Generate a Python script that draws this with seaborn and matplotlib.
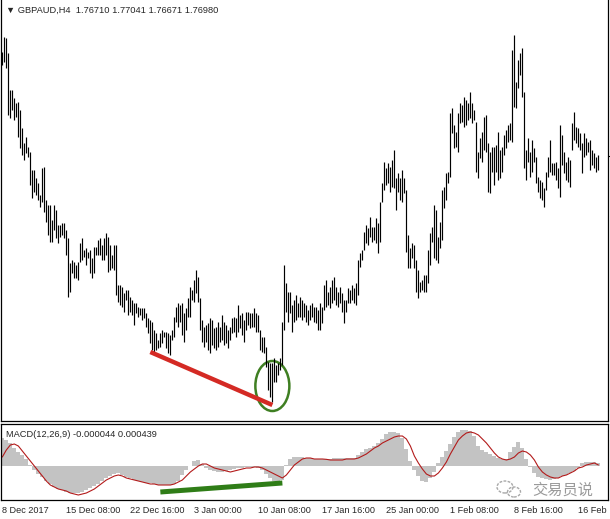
import matplotlib
matplotlib.use("Agg")
import matplotlib.pyplot as plt
import matplotlib.transforms as mtransforms
from matplotlib.patches import Ellipse
import numpy as np
import pandas as pd
import seaborn as sns

title_text = "\u25bc GBPAUD,H4  1.76710 1.77041 1.76671 1.76980"
macd_text = "MACD(12,26,9) -0.000044 0.000439"
last_close = 1.7698

# H4 bars, high / low in pips above 1.7000
highs = [906, 936, 934, 904, 830, 830, 814, 804, 806, 790,
         754, 724, 736, 716, 706, 670, 670, 654, 644, 620,
         674, 676, 610, 600, 600, 570, 600, 590, 560, 560,
         564, 564, 550, 534, 484, 490, 486, 480, 486, 524,
         534, 510, 514, 506, 510, 494, 516, 516, 530,
         534, 520, 534, 544, 536, 520, 500, 520, 520, 440,
         440, 436, 424, 430, 430, 416, 410, 404, 404, 396,
         394, 394, 394, 384, 374, 370, 366, 350, 344, 330,
         344, 350, 346, 346, 344, 340, 350, 376, 396, 404,
         400, 404, 384, 394, 414, 436, 430, 450, 470, 456,
         414, 370, 356, 360, 364, 374, 370, 354, 356, 366,
         356, 380, 366, 360, 350, 356, 374, 376, 374, 400,
         380, 384, 370, 386, 386, 384, 384, 394, 384, 380,
         350, 336, 336, 316, 286, 284, 284, 294, 280, 284,
         294, 366, 480, 444, 426, 426, 400, 410, 420, 404,
         416, 410, 404, 400, 390, 400, 404, 396, 396, 390,
         404, 396, 440, 450, 426, 436, 450, 456, 436, 426,
         436, 424, 410, 410, 434, 430, 440, 434, 444, 490,
         504, 510, 546, 560, 554, 576, 556, 556, 574, 564,
         606, 644, 686, 674, 684, 676, 690, 710, 654, 664,
         654, 670, 654, 630, 540, 514, 524, 520, 490, 470,
         446, 450, 460, 460, 510, 544, 556, 600, 590, 536,
         566, 630, 636, 664, 666, 784, 794, 760, 746, 784,
         804, 800, 816, 810, 804, 826, 804, 790, 766, 706,
         734, 746, 776, 780, 724, 706, 716, 716, 720, 746,
         710, 716, 740, 750, 760, 764, 910, 940, 846, 890,
         904, 914, 826, 710, 734, 706, 730, 714, 696, 656,
         650, 646, 634, 666, 696, 730, 684, 684, 686, 674,
         760, 740, 706, 686, 696, 690, 764, 786, 756, 754,
         744, 724, 744, 734, 726, 730, 710, 704, 696, 700]
lows = [880, 886, 874, 780, 774, 790, 770, 776, 736, 714,
        700, 690, 704, 696, 640, 614, 626, 620, 610, 596,
        606, 586, 566, 540, 526, 526, 550, 534, 524, 536,
        540, 534, 500, 416, 426, 464, 454, 454, 450, 486,
        490, 496, 480, 494, 464, 454, 464, 500, 500,
        500, 490, 490, 500, 466, 470, 474, 470, 420, 406,
        400, 396, 386, 410, 380, 386, 380, 360, 384, 376,
        380, 370, 374, 356, 344, 324, 310, 300, 310, 314,
        316, 324, 336, 314, 304, 300, 330, 336, 366, 356,
        366, 340, 326, 350, 376, 376, 410, 406, 424, 406,
        350, 326, 316, 326, 310, 304, 320, 314, 310, 316,
        326, 330, 320, 324, 314, 330, 344, 346, 336, 346,
        354, 340, 326, 350, 360, 354, 356, 356, 346, 346,
        310, 306, 304, 276, 230, 216, 206, 246, 246, 260,
        270, 280, 350, 386, 366, 384, 346, 366, 370, 376,
        376, 370, 376, 366, 360, 370, 376, 366, 364, 350,
        350, 364, 390, 396, 400, 394, 404, 410, 400, 396,
        404, 386, 364, 386, 404, 404, 410, 404, 400, 420,
        476, 490, 510, 524, 520, 536, 526, 530, 524, 504,
        526, 606, 630, 640, 644, 626, 636, 634, 590, 626,
        610, 606, 624, 506, 474, 474, 494, 474, 426, 414,
        426, 430, 426, 426, 444, 480, 526, 494, 490, 484,
        514, 530, 594, 610, 644, 656, 744, 714, 716, 706,
        764, 766, 756, 760, 770, 774, 764, 770, 666, 654,
        694, 686, 710, 706, 626, 624, 666, 640, 666, 650,
        654, 666, 700, 714, 726, 730, 726, 796, 794, 834,
        860, 816, 674, 650, 686, 656, 666, 686, 644, 626,
        614, 610, 596, 630, 656, 666, 660, 660, 650, 634,
        616, 680, 664, 650, 646, 636, 710, 730, 724, 716,
        710, 664, 696, 700, 706, 670, 680, 674, 666, 670]

# MACD histogram and signal, read every 2nd bar, units of 0.0001
macd_bars = list(range(0, 300, 2))
macd_hist = [42, 39, 34.5, 27, 21, 16.5, 10.5, 1.5, -6, -12,
             -16.5, -22.5, -27, -31.5, -34.5, -36, -39, -40.5, -40.5, -40.5,
             -39, -36, -33, -30, -27, -22.5, -18, -15, -12, -10.5,
             -13.5, -16.5, -18, -21, -22.5, -24, -25.5, -25.5, -27, -28.5,
             -28.5, -28.5, -28.5, -27, -22.5, -13.5, -6, 0, 7.5, 9,
             3, -3, -6, -7.5, -9, -9, -7.5, -6, -4.5, -3,
             -3, -1.5, -1.5, -1.5, -3, -6, -12, -18, -22.5, -24,
             -21, 1.5, 10.5, 13.5, 13.5, 13.5, 12, 12, 10.5, 10.5,
             10.5, 10.5, 10.5, 12, 12, 12, 12, 12, 12, 16.5,
             21, 25.5, 27, 30, 34.5, 40.5, 48, 51, 51, 49.5,
             42, 25.5, 7.5, -6, -15, -22.5, -24, -18, -9, 4.5,
             13.5, 22.5, 33, 43.5, 51, 54, 54, 52.5, 45, 30,
             24, 21, 18, 15, 12, 10.5, 10.5, 21, 28.5, 36,
             27, 10.5, -1.5, -10.5, -16.5, -18, -19.5, -21, -19.5, -18,
             -15, -13.5, -10.5, -7.5, -3, 4.5, 6, 6, 6, 4.5]
macd_signal = [13.5, 24, 31.5, 33, 30, 22.5, 15, 7.5, 0, -7.5,
               -15, -22.5, -28.5, -31.5, -34.5, -36, -37.5, -40.5, -42, -43.5,
               -42, -40.5, -37.5, -34.5, -30, -25.5, -21, -18, -15, -13.5,
               -15, -18, -19.5, -21, -22.5, -24, -25.5, -27, -27, -28.5,
               -28.5, -28.5, -28.5, -27, -24, -21, -15, -9, -4.5, 0,
               3, 3, 0, -3, -4.5, -6, -7.5, -9, -7.5, -6,
               -4.5, -3, -3, -1.5, -1.5, -3, -6, -9, -12, -15,
               -18, -13.5, -6, 1.5, 6, 10.5, 12, 12, 10.5, 10.5,
               10.5, 10, 9, 9, 9, 9, 10.5, 10.5, 10.5, 12,
               15, 18, 22.5, 27, 30, 34.5, 37.5, 40.5, 43.5, 45,
               45, 40.5, 30, 15, 4.5, -4.5, -12, -15, -15, -10.5,
               -3, 6, 18, 28.5, 39, 45, 49.5, 51, 49.5, 46.5,
               40.5, 34.5, 27, 19.5, 13.5, 10.5, 9, 10.5, 13.5, 19.5,
               22.5, 21, 16.5, 9, -1.5, -9, -13.5, -16.5, -18, -18,
               -15, -13.5, -10.5, -7.5, -3, -1.5, 1.5, 3, 4.5, 1.5]

time_labels = ["8 Dec 2017", "15 Dec 08:00", "22 Dec 16:00", "3 Jan 00:00",
               "10 Jan 08:00", "17 Jan 16:00", "25 Jan 00:00", "1 Feb 08:00",
               "8 Feb 16:00", "16 Feb"]
label_bars = [0, 32, 64, 96, 128, 160, 192, 224, 256, 288]

# hand-drawn annotations (bar index, price / macd value)
red_line_bars = [74, 135]
red_line_prices = [1.7306, 1.7200]
circle_center = (135, 1.7238)
circle_size = (17, 0.0100)
green_line_bars = [79, 140]
green_line_macd = [-0.0039, -0.00255]
watermark = "交易员说"

bars = pd.DataFrame({"bar": np.arange(len(highs)),
                     "high": 1.7 + np.array(highs) / 1e4,
                     "low": 1.7 + np.array(lows) / 1e4})
macd = pd.DataFrame({"bar": macd_bars,
                     "hist": np.array(macd_hist) / 1e4,
                     "signal": np.array(macd_signal) / 1e4})

sns.set_style("white")
plt.rcParams["font.family"] = ["Liberation Sans", "DejaVu Sans"]

fig = plt.figure(figsize=(6.1, 5.19), dpi=100)
ax = fig.add_axes([1 / 610, 98 / 519, 607 / 610, 421 / 519])
ax2 = fig.add_axes([1 / 610, 19 / 519, 607 / 610, 76 / 519])

xlim = (-0.665, 302.8)

# price bars
ax.vlines(bars["bar"], bars["low"], bars["high"], color="black", lw=0.85)
ax.set_xlim(xlim)
ax.set_ylim(1.7168, 1.8010)
ax.set_xticks([])
ax.set_yticks([])
for s in ax.spines.values():
    s.set_color("black")
    s.set_linewidth(0.9)
ax.spines["top"].set_visible(False)
ax.text(0.008, 0.976, title_text, transform=ax.transAxes, fontsize=6.7,
        ha="left", va="center")
ax.plot([1.0, 1.01], [last_close, last_close], color="black", lw=0.8,
        transform=mtransforms.blended_transform_factory(ax.transAxes, ax.transData),
        clip_on=False)

ax.plot(red_line_bars, red_line_prices, color="#d42a24", lw=3.2,
        solid_capstyle="butt")
ax.add_patch(Ellipse(circle_center, circle_size[0], circle_size[1],
                     fill=False, edgecolor="#3f7f22", lw=1.8))

# MACD
ax2.bar(macd["bar"], macd["hist"], width=2, color="#c3c3c3", linewidth=0)
sns.lineplot(data=macd, x="bar", y="signal", ax=ax2, color="#b31b1b", lw=0.8)
ax2.plot(green_line_bars, green_line_macd, color="#2f7d17", lw=3.6,
         solid_capstyle="butt")
ax2.set_xlim(xlim)
ax2.set_ylim(-0.0051, 0.0063)
ax2.set_xlabel("")
ax2.set_ylabel("")
ax2.set_yticks([])
ax2.set_xticks(label_bars)
ax2.set_xticklabels([])
ax2.tick_params(axis="x", direction="out", length=3.5, width=0.8, color="black")
for s in ax2.spines.values():
    s.set_color("black")
    s.set_linewidth(0.9)
ax2.text(0.008, 0.86, macd_text, transform=ax2.transAxes, fontsize=6.7,
         ha="left", va="center")

tr = mtransforms.blended_transform_factory(ax2.transData, ax2.transAxes)
for b, lab in zip(label_bars, time_labels):
    ax2.text(b, -0.14, lab, transform=tr, fontsize=6.6, ha="left",
             va="center", clip_on=False)

# watermark: chat-bubble logo + name
for cx, cy, w, h in [(505, 487, 16, 12), (514, 492, 13, 10)]:
    fig.add_artist(Ellipse((cx / 610, 1 - cy / 519), w / 610, h / 519,
                           transform=fig.transFigure, fill=False,
                           edgecolor="#a8a8a8", lw=1.0, ls=(0, (2, 1))))
fig.text(532 / 610, 1 - 490 / 519, watermark, fontsize=11, color="#9a9a9a",
         family=["Noto Sans CJK SC", "DejaVu Sans"], ha="left", va="center")

fig.savefig("out.png", dpi=100)
